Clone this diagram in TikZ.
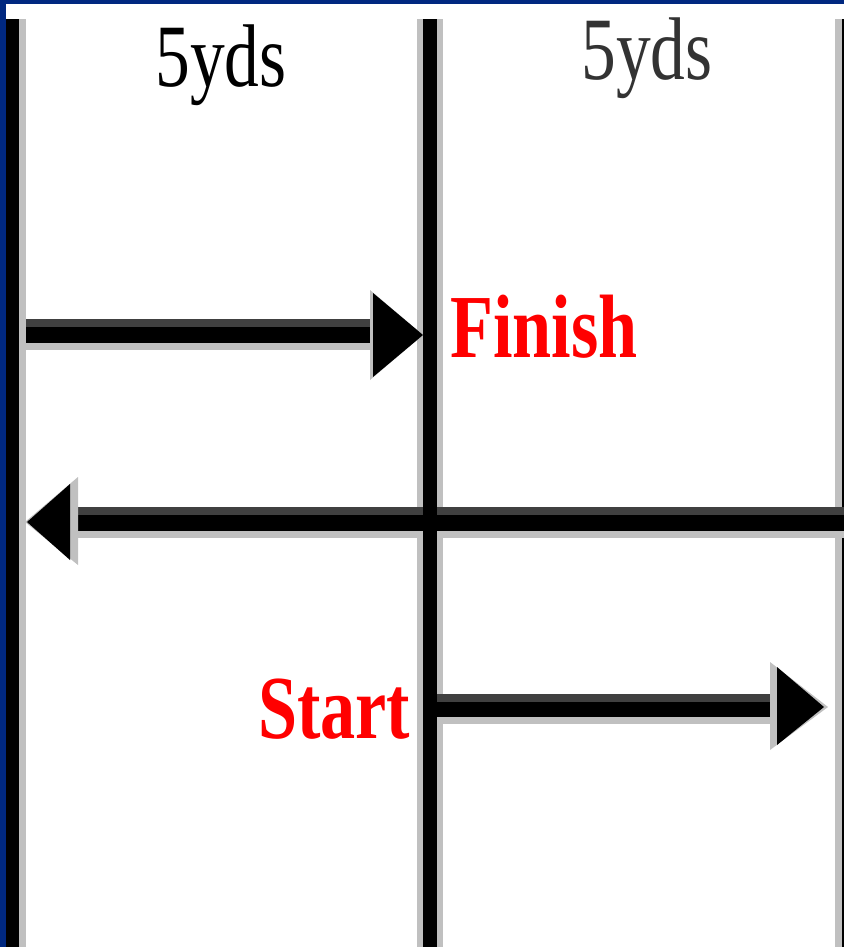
\documentclass[tikz,border=0pt]{standalone}
\usepackage{fontspec}
\usepackage{graphicx}
\setmainfont{Liberation Serif}
\definecolor{frameblue}{RGB}{0,40,128}
\definecolor{shadelight}{RGB}{192,192,192}
\definecolor{shadedark}{RGB}{64,64,64}
\definecolor{markred}{RGB}{255,0,0}
\tikzset{
  lane/.style={fill=black},
  lanelight/.style={fill=shadelight},
  shaft/.style={draw=black, line width=16pt},
  shafttop/.style={draw=shadedark, line width=8pt},
  shaftlow/.style={draw=shadelight, line width=7pt},
  headblack/.style={fill=black},
  headshade/.style={fill=shadelight},
  distlabel/.style={inner sep=0pt, anchor=base, font=\fontsize{89}{89}\selectfont},
  marklabel/.style={inner sep=0pt, anchor=base west, text=markred, font=\fontsize{90}{90}\selectfont\bfseries}
}
\newcommand{\narrowtext}[1]{\scalebox{0.78}[1]{#1}}
\begin{document}
\begin{tikzpicture}[x=1pt,y=-1pt]
  \useasboundingbox (0,0) rectangle (844,947);
  \fill[white] (0,0) rectangle (844,947);

  % outer frame
  \fill[frameblue] (0,0) rectangle (844,4);
  \fill[frameblue] (0,0) rectangle (6,947);

  % lane lines
  \fill[lane] (6,19) rectangle (19,947);
  \fill[lanelight] (19,19) rectangle (26,947);
  \fill[lanelight] (417,19) rectangle (423,947);
  \fill[lanelight] (437,19) rectangle (443,947);
  \fill[lanelight] (835,19) rectangle (842,947);
  \fill[lane] (842,19) rectangle (844,947);

  % lane distances
  \node[distlabel] (yardsA) at (221,87) {\narrowtext{5yds}};
  \node[distlabel, text=black!80] (yardsB) at (647,80) {\narrowtext{5yds}};

  % arrow end points
  \coordinate (outL) at (70,523);
  \coordinate (outR) at (844,523);
  \coordinate (finL) at (26,335);
  \coordinate (finR) at (372,335);
  \coordinate (staL) at (437,709);
  \coordinate (staR) at (777,709);

  % middle (return) leg, shadows then shaft
  \draw[shafttop] ([yshift=12pt]outL) -- ([yshift=12pt]outR);
  \draw[shaftlow] ([yshift=-11.5pt]outL) -- ([yshift=-11.5pt]outR);
  \fill[lane] (423,19) rectangle (437,947);
  \draw[shaft] (outL) -- (outR);
  \fill[headshade] (25,522) -- (78,477) -- (78,565) -- cycle;
  \fill[headblack] (27,522) -- (70,484) -- (70,560) -- cycle;

  % finish leg
  \draw[shafttop] ([yshift=12pt]finL) -- ([yshift=12pt]finR);
  \draw[shaftlow] ([yshift=-11.5pt]finL) -- ([yshift=-11.5pt]finR);
  \draw[shaft] (finL) -- ([xshift=4pt]finR);
  \fill[headshade] (423,335) -- (370,290) -- (370,380) -- cycle;
  \fill[headblack] (423,335) -- (373,293) -- (373,377) -- cycle;

  % start leg
  \draw[shafttop] ([yshift=11.5pt]staL) -- ([yshift=11.5pt]staR);
  \draw[shaftlow] ([yshift=-11pt]staL) -- ([yshift=-11pt]staR);
  \draw[shaft, line width=15pt] (staL) -- ([xshift=4pt]staR);
  \fill[headshade] (828,707) -- (770,662) -- (770,750) -- cycle;
  \fill[headblack] (824,707) -- (777,667) -- (777,745) -- cycle;

  % leg markers
  \node[marklabel] (finish) at (450,357) {\narrowtext{Finish}};
  \node[marklabel] (start) at (258,738) {\narrowtext{Start}};
\end{tikzpicture}
\end{document}
